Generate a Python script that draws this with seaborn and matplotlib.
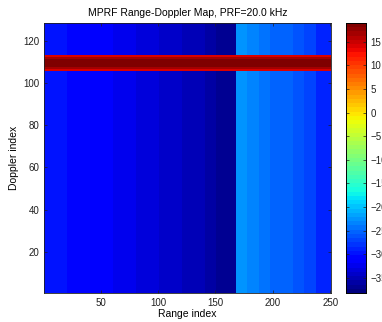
import numpy as np
import pandas as pd
import matplotlib
matplotlib.use("Agg")
import matplotlib.pyplot as plt
import seaborn as sns

# ---- data ----
n_range = 250
n_doppler = 128
# background clutter level (dB) per range block
block_widths = [10, 10, 10, 10, 10, 10, 10, 10, 10, 10, 10, 10, 10, 10, 10, 10, 7,
                10, 10, 10, 10, 10, 10, 10, 13]
block_db = [-29.5, -30.0, -30.4, -30.8, -31.2, -31.5, -32.0, -32.5, -33.0, -33.4,
            -33.8, -34.3, -34.8, -35.3, -36.0, -36.6, -37.2,
            -23.0, -23.5, -24.2, -24.8, -25.5, -26.3, -27.2, -28.5]
# strong Doppler line rows and levels
band_rows = [106, 107, 108, 109, 110, 111, 112, 113]
band_db = [14.5, 17.0, 18.2, 18.8, 18.8, 18.2, 17.0, 14.5]
x_ticks = [50, 100, 150, 200, 250]
y_ticks = [20, 40, 60, 80, 100, 120]
cbar_ticks = [-35, -30, -25, -20, -15, -10, -5, 0, 5, 10, 15]
vmin, vmax = -38.2, 19.0

profile = np.repeat(block_db, block_widths)
grid = np.tile(profile, (n_doppler, 1))
for r, v in zip(band_rows, band_db):
    grid[r - 1, :] = v
df = pd.DataFrame(grid, index=np.arange(1, n_doppler + 1), columns=np.arange(1, n_range + 1))

plt.rcParams['font.family'] = ['Liberation Sans', 'DejaVu Sans']
fig = plt.figure(figsize=(3.82, 3.22), dpi=100)
ax = fig.add_axes([0.115, 0.09, 0.751, 0.839])
cax = fig.add_axes([0.907, 0.09, 0.050, 0.839])

sns.heatmap(df, ax=ax, cbar_ax=cax, cmap=plt.get_cmap('jet', 64), vmin=vmin, vmax=vmax,
            xticklabels=False, yticklabels=False, rasterized=True)
ax.set_ylim(0, n_doppler)
ax.set_xlim(0, n_range)
ax.set_xticks([t - 0.5 for t in x_ticks])
ax.set_xticklabels([str(t) for t in x_ticks])
ax.set_yticks([t - 0.5 for t in y_ticks])
ax.set_yticklabels([str(t) for t in y_ticks], rotation=0)
for s in ax.spines.values():
    s.set_visible(True)
    s.set_linewidth(0.6)
    s.set_color('#202020')
ax.tick_params(direction='in', length=2.5, width=0.5, labelsize=7, top=True, right=True,
               colors='#202020')
ax.set_xlabel('Range index', fontsize=7.5, labelpad=1)
ax.set_ylabel('Doppler index', fontsize=7.5, labelpad=3)
ax.set_title('MPRF Range-Doppler Map, PRF=20.0 kHz', fontsize=7.5, pad=5)

cax.set_yticks(cbar_ticks)
cax.tick_params(direction='in', length=2.5, width=0.5, labelsize=7, right=True, left=True,
                colors='#202020')
for s in cax.spines.values():
    s.set_visible(True)
    s.set_linewidth(0.6)

fig.savefig('out.png', dpi=100)
